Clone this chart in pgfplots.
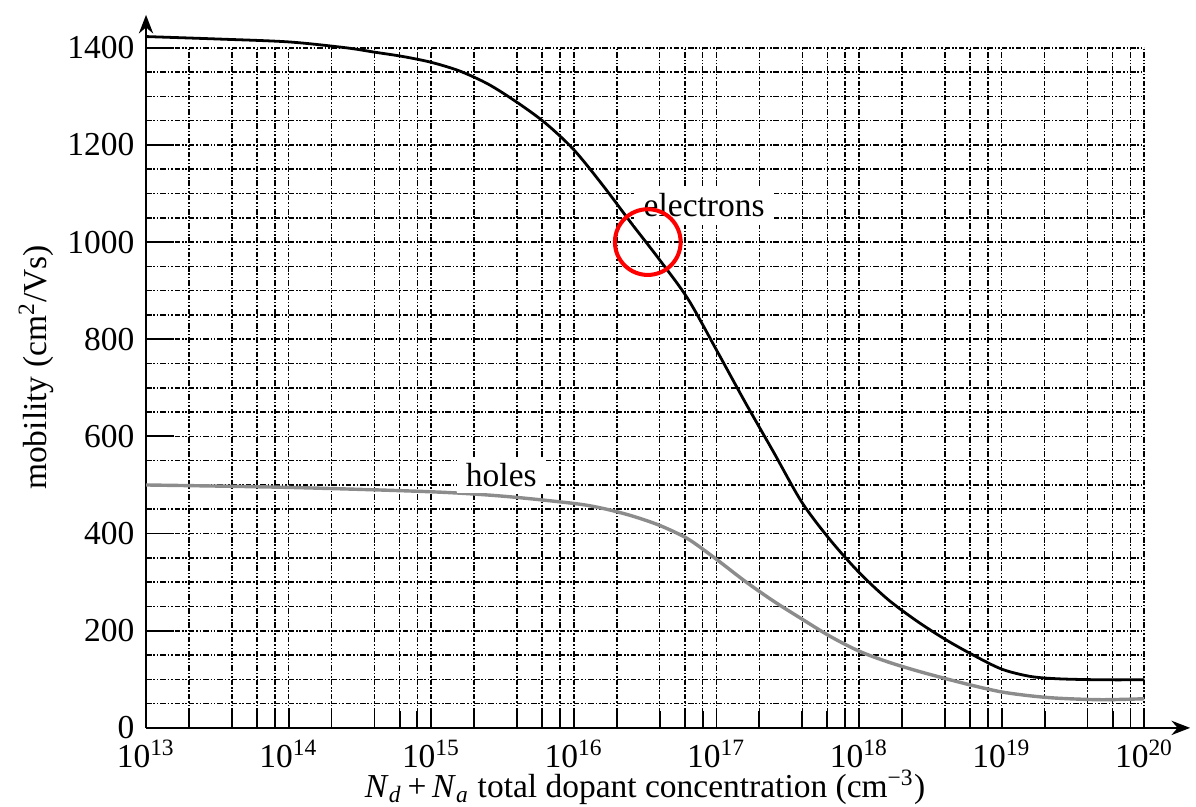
\documentclass[border=0pt]{standalone}
\usepackage{fontspec}
\setmainfont{Liberation Serif}
\usepackage{pgfplots}
\pgfplotsset{compat=1.18}
\usetikzlibrary{arrows.meta}

% carrier mobility in silicon versus total dopant concentration
\pgfplotstableread{
N         mu
1e13      1423
3.162e13  1418
1e14      1412
2.512e14  1400
3.981e14  1391
6.310e14  1382
1e15      1370
1.585e15  1352
2.512e15  1325
3.981e15  1288
6.310e15  1245
1e16      1190
1.585e16  1118
2.512e16  1040
3.981e16  964
6.310e16  883
1e17      778
1.585e17  671
2.512e17  568
3.981e17  464
6.310e17  386
1e18      320
1.585e18  265
2.512e18  221
3.981e18  183
6.310e18  150
1e19      121
1.585e19  106
2.512e19  101
5.012e19  99
1e20      99
}\electrons

\pgfplotstableread{
N         mu
1e13      500
1e14      495
1e15      486
3.162e15  477
1e16      462
1.585e16  452
2.512e16  437
3.981e16  417
6.310e16  389
1e17      347
1.585e17  302
2.512e17  261
3.981e17  224
6.310e17  188
1e18      158
1.585e18  136
2.512e18  118
3.981e18  102
6.310e18  87
1e19      74
1.585e19  66
2.512e19  61
5.012e19  58
1e20      60
}\holes

\tikzset{gridline/.style={line width=0.5pt, black,
  dash pattern=on 1.8pt off 0.6pt on 0.5pt off 0.6pt on 0.5pt off 0.6pt}}

\begin{document}
\fontsize{10.8pt}{13pt}\selectfont
\begin{tikzpicture}
\begin{axis}[
  at={(0,0)}, anchor=south west,
  scale only axis, width=322pt, height=219.4pt,
  xmode=log, xmin=1e13, xmax=1e20, ymin=0, ymax=1400,
  clip=false,
  axis lines=left,
  axis line style={line width=0.65pt, black, -{Stealth[length=6pt,width=4.6pt]}},
  x axis line style={shorten >=-14.8pt},
  y axis line style={shorten >=-10.6pt},
  tick align=inside,
  xtick={1e13,1e14,1e15,1e16,1e17,1e18,1e19,1e20},
  xticklabels={10\textsuperscript{13},10\textsuperscript{14},10\textsuperscript{15},10\textsuperscript{16},10\textsuperscript{17},10\textsuperscript{18},10\textsuperscript{19},10\textsuperscript{20}},
  minor xtick={2e13,4e13,6e13,8e13,2e14,4e14,6e14,8e14,2e15,4e15,6e15,8e15,
               2e16,4e16,6e16,8e16,2e17,4e17,6e17,8e17,2e18,4e18,6e18,8e18,
               2e19,4e19,6e19,8e19},
  ytick={0,200,...,1400},
  minor y tick num=3,
  /pgf/number format/1000 sep={},
  /pgf/number format/assume math mode=true,
  major x tick style={line width=0.6pt, black, /pgfplots/major tick length=6.5pt},
  minor x tick style={line width=0.6pt, black, /pgfplots/minor tick length=5.5pt},
  major y tick style={line width=0.6pt, black, /pgfplots/major tick length=9pt},
  minor y tick style={/pgfplots/minor tick length=0pt},
  grid=both,
  major grid style={gridline},
  minor grid style={gridline},
  every axis x label/.style={at={(axis description cs:0.5,-0.087)}, anchor=center},
  every axis y label/.style={at={(axis description cs:-0.11,0.53)}, anchor=center, rotate=90},
  xlabel={\textit{N}\textsubscript{\textit{d}}\,+\,\textit{N}\textsubscript{\textit{a}} total dopant concentration (cm\textsuperscript{−3})},
  ylabel={mobility (cm\textsuperscript{2}/Vs)},
]
\addplot[black!45, line width=1.1pt, smooth] table[x=N, y=mu] {\holes};
\addplot[black, line width=0.9pt, smooth] table[x=N, y=mu] {\electrons};

\node[fill=white, inner xsep=3pt, inner ysep=2.5pt, anchor=base] at (axis cs:8.2e16,1052) {electrons};
\node[fill=white, inner xsep=3pt, inner ysep=2pt, anchor=base] at (axis cs:3.1e15,496) {holes};

\addplot[only marks, mark=o, mark size=10.6pt,
  mark options={draw=red, line width=1.3pt}] coordinates {(3.3e16,1000)};
\end{axis}
\pgfresetboundingbox
\path[use as bounding box] (-47.1pt,-25.2pt) rectangle (338.7pt,234.8pt);
\end{tikzpicture}
\end{document}
